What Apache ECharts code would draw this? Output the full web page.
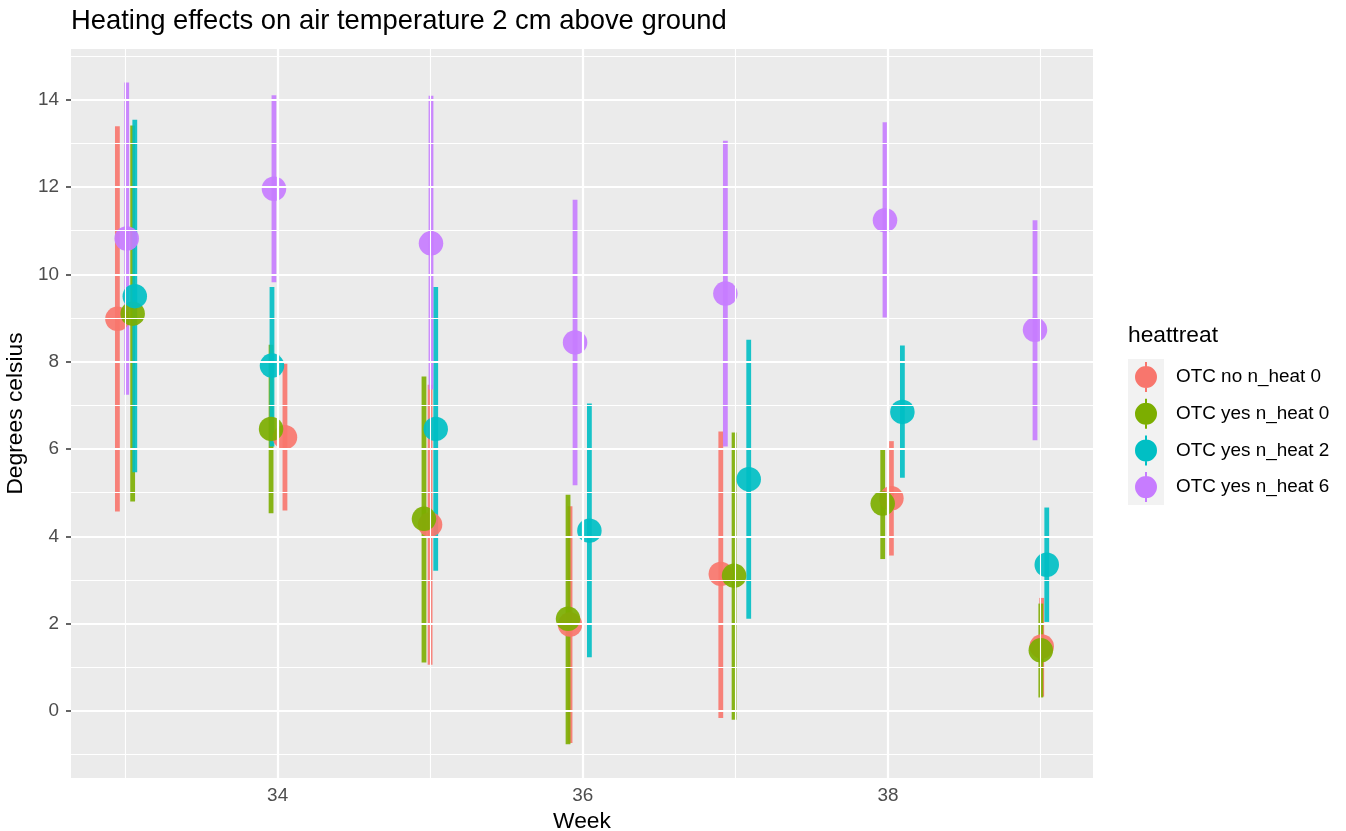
<!DOCTYPE html>
<html><head><meta charset="utf-8">
<script src="https://cdn.jsdelivr.net/npm/echarts@6/dist/echarts.min.js"></script>
<style>html,body{margin:0;padding:0;background:#fff}#c{width:1346px;height:831px}</style>
</head><body><div id="c"></div>
<script>
const groups = ['OTC no n_heat 0','OTC yes n_heat 0','OTC yes n_heat 2','OTC yes n_heat 6'];
const colors = ['#F8766D','#7CAE00','#00BFC4','#C77CFF'];
const xTicks = [34,36,38];
const xMinor = [33,35,37,39];
const yTicks = [0,2,4,6,8,10,12,14];
const yMinor = [-1,1,3,5,7,9,11,13,15];

// x positions (jittered weeks), means, lower and upper limits per group
const redX    = [32.950, 34.048, 34.999, 35.916, 36.904, 38.022, 39.007];
const redMean = [8.98, 6.27, 4.27, 1.98, 3.14, 4.87, 1.48];
const redLo   = [4.57, 4.59, 1.06, -0.73, -0.16, 3.56, 0.33];
const redHi   = [13.39, 7.95, 7.47, 4.69, 6.40, 6.18, 2.59];

const greenX    = [33.050, 33.957, 34.959, 35.903, 36.991, 37.965, 39.001];
const greenMean = [9.10, 6.46, 4.40, 2.11, 3.10, 4.75, 1.39];
const greenLo   = [4.80, 4.53, 1.11, -0.76, -0.20, 3.48, 0.31];
const greenHi   = [13.41, 8.39, 7.66, 4.95, 6.38, 6.01, 2.46];

const cyanX    = [33.064, 33.963, 35.036, 36.043, 37.087, 38.094, 39.040];
const cyanMean = [9.50, 7.91, 6.46, 4.13, 5.31, 6.85, 3.35];
const cyanLo   = [5.47, 6.06, 3.21, 1.23, 2.11, 5.34, 2.04];
const cyanHi   = [13.54, 9.71, 9.71, 7.04, 8.50, 8.37, 4.66];

const purpleX    = [33.011, 33.976, 35.005, 35.949, 36.934, 37.980, 38.963];
const purpleMean = [10.82, 11.96, 10.71, 8.44, 9.56, 11.24, 8.73];
const purpleLo   = [7.24, 9.82, 7.36, 5.17, 6.06, 9.01, 6.20];
const purpleHi   = [14.39, 14.10, 14.09, 11.71, 13.06, 13.48, 11.24];

const allX = [redX, greenX, cyanX, purpleX];
const allMean = [redMean, greenMean, cyanMean, purpleMean];
const allLo = [redLo, greenLo, cyanLo, purpleLo];
const allHi = [redHi, greenHi, cyanHi, purpleHi];

const chart = echarts.init(document.getElementById('c'));
const FONT = 'Liberation Sans, Arial, sans-serif';
// circle with a vertical line through it; two empty sub-paths widen the box to the legend key size
const icon = 'path://M-7 0 L-7 0 M36 30 L36 30 M0 15 A11 11 0 1 0 22 15 A11 11 0 1 0 0 15 Z M10 0 V30 H12 V0 Z';

const series = [];
// gridlines
series.push({
  type: 'scatter', data: [], z: 1, silent: true,
  markLine: {
    silent: true, symbol: 'none', animation: false, label: {show: false},
    data: [
      ...yMinor.map(v => ({yAxis: v, lineStyle: {color: '#fff', width: 1.1, type: 'solid'}})),
      ...xMinor.map(v => ({xAxis: v, lineStyle: {color: '#fff', width: 1.1, type: 'solid'}})),
      ...yTicks.map(v => ({yAxis: v, lineStyle: {color: '#fff', width: 2.2, type: 'solid'}})),
      ...xTicks.map(v => ({xAxis: v, lineStyle: {color: '#fff', width: 2.2, type: 'solid'}}))
    ]
  }
});
groups.forEach((g, i) => {
  series.push({
    type: 'custom', name: g, z: 2,
    itemStyle: {color: colors[i]},
    data: allX[i].map((x, k) => [x, allLo[i][k], allHi[i][k]]),
    encode: {x: 0, y: [1, 2]},
    renderItem: (params, api) => {
      const p1 = api.coord([api.value(0), api.value(1)]);
      const p2 = api.coord([api.value(0), api.value(2)]);
      return {type: 'line', shape: {x1: p1[0], y1: p1[1], x2: p2[0], y2: p2[1]},
        style: {stroke: colors[i], lineWidth: 4.8, opacity: 0.9}};
    }
  });
});
groups.forEach((g, i) => {
  series.push({
    type: 'scatter', name: g, z: 3,
    symbolSize: 24.5,
    itemStyle: {color: colors[i], opacity: 0.92},
    data: allX[i].map((x, k) => [x, allMean[i][k]])
  });
});

chart.setOption({
  animation: false,
  textStyle: {fontFamily: FONT},
  title: {text: 'Heating effects on air temperature 2 cm above ground', left: 66, top: 3,
    textStyle: {fontFamily: FONT, fontSize: 27.4, fontWeight: 'normal', color: '#000'}},
  grid: {left: 71, right: 253, top: 49, bottom: 53, show: true, backgroundColor: '#EBEBEB', borderWidth: 0,
    outerBoundsMode: 'none', containLabel: false},
  xAxis: {
    type: 'value', min: 32.646, max: 39.343,
    name: 'Week', nameLocation: 'middle', nameGap: 30,
    nameTextStyle: {fontFamily: FONT, fontSize: 22.8, color: '#000'},
    axisLine: {show: false},
    splitLine: {show: false},
    axisTick: {show: true, customValues: xTicks, length: 5, lineStyle: {color: '#333', width: 1.5}},
    axisLabel: {customValues: xTicks, color: '#4D4D4D', fontSize: 18.9, margin: 8, fontFamily: FONT}
  },
  yAxis: {
    type: 'value', min: -1.534, max: 15.16,
    name: 'Degrees celsius', nameLocation: 'middle', nameGap: 41, nameRotate: 90,
    nameTextStyle: {fontFamily: FONT, fontSize: 22.8, color: '#000'},
    axisLine: {show: false},
    splitLine: {show: false},
    axisTick: {show: true, customValues: yTicks, length: 5, lineStyle: {color: '#333', width: 1.5}},
    axisLabel: {customValues: yTicks, color: '#4D4D4D', fontSize: 18.9, margin: 12, fontFamily: FONT}
  },
  legend: {
    orient: 'vertical', left: 1123, top: 357,
    itemWidth: 43, itemHeight: 30, itemGap: 6.7,
    data: groups.map(g => ({name: g, icon: icon})),
    textStyle: {fontFamily: FONT, fontSize: 18.9, color: '#000'},
    selectedMode: false
  },
  graphic: [
    {type: 'rect', left: 1128, top: 359, shape: {width: 36, height: 146}, style: {fill: '#F2F2F2'}, z: -1},
    {type: 'text', left: 1128, top: 324, style: {text: 'heattreat', font: '22.8px ' + FONT, fill: '#000'}}
  ],
  series: series
});
</script></body></html>
